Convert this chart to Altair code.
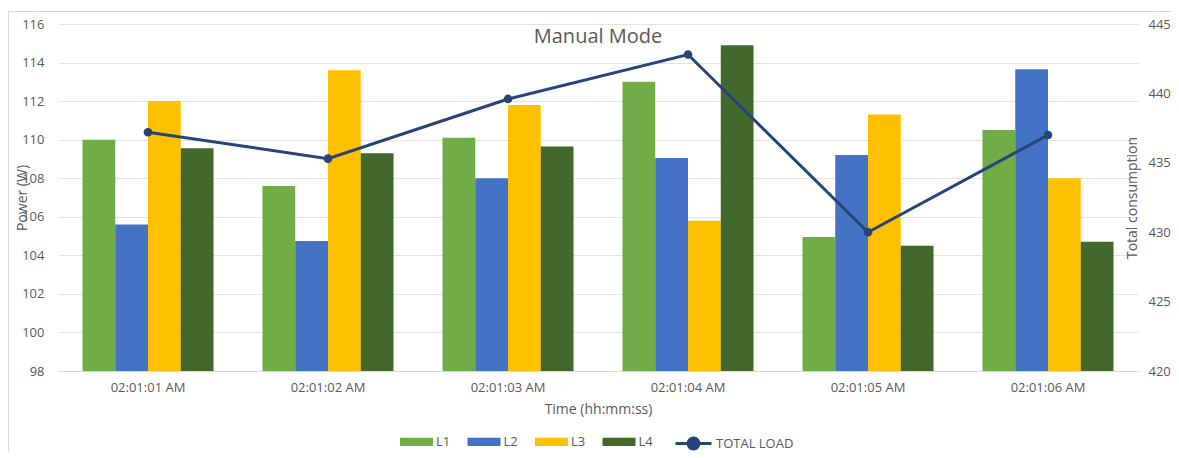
import altair as alt
import pandas as pd

times = ["02:01:01 AM", "02:01:02 AM", "02:01:03 AM", "02:01:04 AM", "02:01:05 AM", "02:01:06 AM"]
series_names = ["L1", "L2", "L3", "L4"]
L1 = [110.0, 107.6, 110.1, 113.0, 104.95, 110.5]
L2 = [105.6, 104.75, 108.0, 109.05, 109.2, 113.65]
L3 = [112.0, 113.6, 111.8, 105.8, 111.3, 108.0]
L4 = [109.55, 109.3, 109.65, 114.9, 104.5, 104.7]
total = [437.2, 435.3, 439.6, 442.8, 430.0, 437.0]
series_colors = ["#70AD47", "#4472C4", "#FFC000", "#43682B"]
line_color = "#264478"

FONT = "Open Sans"
GREY = "#595959"

rows = []
for name, vals in zip(series_names, [L1, L2, L3, L4]):
    for t, v in zip(times, vals):
        rows.append({"time": t, "series": name, "power": v})
bars_df = pd.DataFrame(rows)
line_df = pd.DataFrame({"time": times, "total": total, "name": ["TOTAL LOAD"] * len(times)})

x_enc = alt.X(
    "time:N",
    sort=times,
    scale=alt.Scale(paddingInner=0.272, paddingOuter=0.136),
    axis=alt.Axis(
        title="Time (hh:mm:ss)", labelAngle=0, ticks=False, domain=True,
        domainColor="#d9d9d9", labelPadding=10, titlePadding=8,
        labelFontSize=13, titleFontSize=14,
    ),
)

bars = alt.Chart(bars_df).mark_bar().encode(
    x=x_enc,
    xOffset=alt.XOffset("series:N", sort=series_names,
                        scale=alt.Scale(paddingInner=0, paddingOuter=0)),
    y=alt.Y(
        "power:Q",
        scale=alt.Scale(domain=[98, 116], zero=False, nice=False),
        axis=alt.Axis(
            title="Power (W)", values=list(range(98, 117, 2)), grid=True,
            gridColor="#e3e3e3", domain=False, ticks=False, labelPadding=14,
            titleX=-36, titleY=173.5, titleAlign="center", titleBaseline="middle",
            labelFontSize=13, titleFontSize=14,
        ),
    ),
    y2=alt.datum(98),
    fill=alt.Fill(
        "series:N", sort=series_names,
        scale=alt.Scale(domain=series_names, range=series_colors),
        legend=alt.Legend(
            title=None, orient="none", direction="horizontal", legendX=342, legendY=401,
            symbolType="M-1,-0.25L1,-0.25L1,0.25L-1,0.25Z", symbolSize=1089,
            symbolStrokeWidth=0, columnPadding=16.5, labelOffset=3, padding=0,
            labelFontSize=13, labelColor=GREY, labelFont=FONT,
        ),
    ),
)

line = alt.Chart(line_df).mark_line(strokeWidth=3).encode(
    x=alt.X("time:N", sort=times),
    y=alt.Y(
        "total:Q",
        scale=alt.Scale(domain=[420, 445], zero=False, nice=False),
        axis=alt.Axis(
            title="Total consumption", orient="right", values=list(range(420, 446, 5)),
            grid=False, domain=False, ticks=False, labelPadding=10,
            titleX=-6, titleY=173.5, titleAngle=270, titleAlign="center",
            titleBaseline="middle", labelFontSize=13, titleFontSize=14,
        ),
    ),
    stroke=alt.Stroke(
        "name:N",
        scale=alt.Scale(domain=["TOTAL LOAD"], range=[line_color]),
        legend=alt.Legend(
            title=None, orient="none", legendX=616, legendY=400, padding=0,
            symbolType="M-1,0L1,0M-0.3,0A0.3,0.3,0,1,1,0.3,0A0.3,0.3,0,1,1,-0.3,0Z",
            symbolSize=1296, symbolStrokeWidth=3, symbolFillColor=line_color,
            labelOffset=3, labelFontSize=13, labelColor=GREY, labelFont=FONT,
        ),
    ),
)

points = alt.Chart(line_df).mark_circle(size=75, opacity=1, color=line_color).encode(
    x=alt.X("time:N", sort=times),
    y=alt.Y("total:Q"),
)

border = alt.Chart(line_df).mark_rect(fillOpacity=0, stroke="#d9d9d9", strokeWidth=1).encode(
    x=alt.value(-49.5), x2=alt.value(1300), y=alt.value(-12.5), y2=alt.value(600)
)

right = alt.layer(line, points)

chart = alt.layer(border, bars, right).resolve_scale(y="independent").properties(
    width=1080,
    height=347,
    autosize=alt.AutoSizeParams(type="none"),
    padding={"left": 50, "top": 16, "right": 33, "bottom": 80},
    title=alt.TitleParams(
        "Manual Mode", fontSize=20, color=GREY, font=FONT, fontWeight="normal",
        anchor="middle", frame="group", offset=-52, baseline="alphabetic",
    ),
).configure_axis(
    labelColor=GREY, titleColor=GREY, labelFont=FONT, titleFont=FONT,
    titleFontWeight="normal",
).configure_view(stroke=None)

chart.save("out.html", embed_options={"renderer": "svg", "actions": False})
